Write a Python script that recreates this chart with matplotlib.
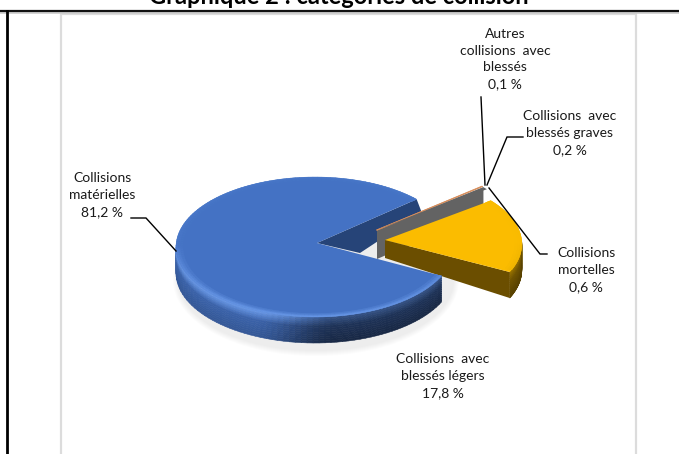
import numpy as np
import matplotlib
matplotlib.use("Agg")
import matplotlib.pyplot as plt
from matplotlib.collections import PolyCollection
from matplotlib.colors import to_rgb
from matplotlib.patches import Ellipse, Polygon, Rectangle

# ---- data (clockwise from the start angle)
categories = ["Autres collisions avec blessés", "Collisions avec blessés graves",
              "Collisions mortelles", "Collisions avec blessés légers",
              "Collisions matérielles"]
values = [0.1, 0.2, 0.6, 17.8, 81.2]
value_labels = ["0,1 %", "0,2 %", "0,6 %", "17,8 %", "81,2 %"]
label_lines = ["Autres\ncollisions  avec\nblessés", "Collisions  avec\nblessés graves",
               "Collisions\nmortelles", "Collisions  avec\nblessés légers",
               "Collisions\nmatérielles"]
colors = ["#A5A5A5", "#ED7D31", "#636363", "#FBBC00", "#4472C4"]
highlights = {3: "#E8B000", 4: "#6F9FEE"}

# ---- layout
START = 43.0
RX, RY, DY = 139.0, 70.0, 4.0
THICK = 26.0
apexes = [(377, 230), (377, 230), (377, 230), (385, 240), (317, 243)]
scales = [1.0, 1.0, 1.0, 0.97, 1.0]
dxs = [3, 3, 3, 2, -2]
label_xy = [(505, 59), (570, 133), (586, 270), (443, 376), (102, 195)]
leaders = [[(481, 97), (485, 185)],
           [(523, 137), (507, 137), (487, 185)],
           [(547, 254), (540, 254), (489, 188)],
           [(131, 218), (146, 218), (176, 251)]]

fig = plt.figure(figsize=(6.79, 4.54), dpi=100)
ax = fig.add_axes([0, 0, 1, 1])
ax.set_xlim(0, 679)
ax.set_ylim(454, 0)
ax.axis("off")
FONT = "Lato"

# page frame and chart box
ax.add_patch(Rectangle((61, 14), 575, 460, fc="white", ec="#dcdcdc", lw=1.6, zorder=1))
ax.plot([0, 679], [13, 13], color="#cccccc", lw=1.2, zorder=2)
ax.plot([0, 679], [11, 11], color="#111111", lw=1.6, zorder=2)
ax.plot([6.5, 6.5], [11, 454], color="black", lw=2, zorder=2)
ax.text(339, 4, "Graphique 2 : catégories de collision", ha="center", va="baseline",
        fontsize=17, fontweight="bold", family=FONT, color="black", zorder=2)


def mix(c, other, t):
    c, other = np.array(to_rgb(c)), np.array(to_rgb(other))
    return tuple(c * (1 - t) + other * t)


def pt(i, th, r=1.0):
    apex, scale = apexes[i], scales[i]
    t = np.radians(th)
    return (apex[0] + dxs[i] + RX * scale * r * np.cos(t),
            apex[1] + DY + RY * scale * r * -np.sin(t))


def wall(i, a0, a1, z):
    """Curved outer wall, shaded vertically and from left to right."""
    color = colors[i]
    ths = np.linspace(a0, a1, 120)
    polys, fc = [], []
    n = 12
    for u, v in zip(ths[:-1], ths[1:]):
        mid = np.radians((u + v) / 2)
        if np.sin(mid) > 0.05:
            continue
        s = np.clip((np.cos(mid) + 0.45) / 0.6, 0, 1)
        side = s * s * (3 - 2 * s)
        pu, pv = pt(i, u), pt(i, v)
        for k in range(n):
            h0, h1 = THICK * k / n, THICK * (k + 1) / n
            polys.append([(pu[0], pu[1] + h0), (pv[0], pv[1] + h0),
                          (pv[0], pv[1] + h1), (pu[0], pu[1] + h1)])
            dark = 0.08 + 0.42 * side + 0.16 * k / n
            light = max(0.0, 0.8 * (1 - k / 4))
            base = mix(color, "black", dark)
            fc.append(mix(base, highlights[i], light * (1 - 0.7 * side)))
    ax.add_collection(PolyCollection(polys, facecolors=fc, edgecolors=fc, lw=0.4, zorder=z))


def bevel(i, a0, a1, z):
    """Lighter rounded rim on the top surface."""
    color = colors[i]
    ths = np.linspace(a0, a1, 160)
    rs = [0.95, 0.97, 0.985, 1.0]
    polys, fc = [], []
    for u, v in zip(ths[:-1], ths[1:]):
        m = np.radians((u + v) / 2)
        front = max(0, -np.sin(m)) ** 0.5
        for j in range(len(rs) - 1):
            polys.append([pt(i, u, rs[j]), pt(i, v, rs[j]), pt(i, v, rs[j + 1]), pt(i, u, rs[j + 1])])
            fc.append(mix(color, highlights[i], (0.1 + 0.7 * front) * (j + 1) / 3))
    ax.add_collection(PolyCollection(polys, facecolors=fc, edgecolors=fc, lw=0.3, zorder=z))


def surface(i, a0, a1):
    return [apexes[i]] + [pt(i, t) for t in np.linspace(a0, a1, 200)]


# soft shadow below the pie
for s in range(6):
    ax.add_patch(Ellipse((316, 280), 2 * RX + 8 - s * 2, 2 * RY + 12 - s * 2,
                         fc="#808080", ec="none", alpha=0.025, zorder=3))

# slices
total = sum(values)
angle = START
spans = []
for v in values:
    spans.append((angle - v / total * 360, angle))
    angle -= v / total * 360

# blue upper cut face, behind everything else
c = pt(4, START)
b_ap = apexes[4]
ax.add_patch(Polygon([b_ap, c, (c[0] + 5, c[1] + 13), (b_ap[0] + 43, b_ap[1] + 10)],
                     fc="#264478", ec="none", zorder=4))

# thin slices: only the cut face of the grey slice and the orange edge show
g_ap, g_tip = apexes[2], pt(2, spans[2][1])
ax.add_patch(Polygon([g_ap, g_tip, (g_tip[0], g_tip[1] + THICK), (g_ap[0], g_ap[1] + 29)],
                     fc=colors[2], ec="none", zorder=5))
for i, w in [(0, 0.6), (1, 0.9)]:
    tip = pt(i, spans[i][1])
    ax.plot([apexes[i][0], tip[0]], [apexes[i][1], tip[1]],
            color=mix(colors[1], "#aaaaaa", .35), lw=w, zorder=6)
ax.add_patch(Polygon(surface(2, *spans[2]), fc=colors[2], ec="none", zorder=6))

# yellow slice
a0, a1 = spans[3]
y_ap = apexes[3]
wall(3, a0, a1, 7)
c = pt(3, a0)
ax.add_patch(Polygon([y_ap, c, (c[0], c[1] + THICK), (y_ap[0], y_ap[1] + 18)],
                     fc="#6B4E00", ec="none", zorder=8))
ax.add_patch(Polygon(surface(3, a0, a1), fc=colors[3], ec="none", zorder=9))
bevel(3, a0 + 2, a1, 9)

# blue slice
a0, a1 = spans[4]
wall(4, a0, a1, 10)
ax.add_patch(Polygon(surface(4, a0, a1), fc=colors[4], ec="none", zorder=11))
bevel(4, a0, a1, 11)

# leader lines
for line in leaders:
    xs, ys = zip(*line)
    ax.plot(xs, ys, color="black", lw=1.0, zorder=14, solid_joinstyle="miter")

# labels
for txt, val, (x, y) in zip(label_lines, value_labels, label_xy):
    ax.text(x, y, txt + "\n" + val, ha="center", va="center", fontsize=10,
            family=FONT, color="#1a1a1a", linespacing=1.49, zorder=15)

fig.savefig("out.png", dpi=100)
